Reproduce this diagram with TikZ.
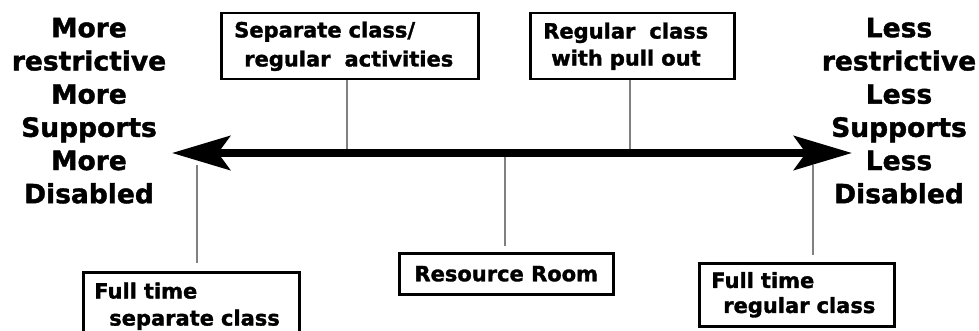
\documentclass[tikz,border=0pt]{standalone}
\usepackage{fontspec}
\newfontfamily\heavy{DejaVu Sans Bold}[FakeBold=1.5]
\usetikzlibrary{arrows.meta}

\begin{document}
\begin{tikzpicture}[x=1pt,y=-1pt,
  box/.style={draw,line width=2.5pt,anchor=north west,inner ysep=0pt,
    font=\heavy\fontsize{21}{#1}\selectfont,align=left},
  box/.default=25,
  side/.style={font=\heavy\fontsize{26.5}{33.2}\selectfont,align=center,
    inner sep=0pt,anchor=north},
  tick/.style={draw=gray,line width=1.5pt},
  spine/.style={line width=8pt,
    {Stealth[length=58pt,width=34pt,inset=12pt]}-{Stealth[length=58pt,width=34pt,inset=12pt]}}]
  \useasboundingbox (0,0) rectangle (979,331);
  \clip (0,0) rectangle (979,331);
  % the scale
  \coordinate (lo) at (172,153);
  \coordinate (hi) at (852,153);
  \draw[spine] (lo) -- (hi);
  \node[side] (more) at (89,17.7) {More\\restrictive\\More\\Supports\\More\\Disabled};
  \node[side] (less) at (899,17.7) {Less\\restrictive\\Less\\Supports\\Less\\Disabled};
  % placements above the scale
  \node[box=29,inner xsep=13pt,text width=231pt,minimum height=66pt] (sepcls) at (220,12)
    {Separate class/\\\hspace*{10pt}regular\ \ activities};
  \node[box=27,inner xsep=13pt,text width=178pt,minimum height=66pt] (pullout) at (529,12)
    {Regular\ \ class\\\hspace*{8pt}with pull out};
  % placements below the scale
  \node[box,inner xsep=0pt,minimum width=214pt,minimum height=41pt,align=center] (resroom) at (398,252)
    {Resource Room};
  \node[box=27,inner xsep=11pt,text width=194pt,minimum height=68pt] (fullsep) at (82,271)
    {Full time\\\hspace*{15pt}separate class};
  \node[box=25,inner xsep=12pt,text width=171pt,minimum height=63pt] (fullreg) at (698,262)
    {Full time\\\hspace*{12pt}regular class};
  % ticks
  \coordinate (t1) at (347,149);
  \coordinate (t2) at (630,149);
  \coordinate (t3) at (505,157);
  \coordinate (t4) at (197,165);
  \coordinate (t5) at (813,165);
  \draw[tick] (sepcls.south -| t1) -- (t1);
  \draw[tick] (pullout.south -| t2) -- (t2);
  \draw[tick,shorten <=6pt] (resroom.north -| t3) -- (t3);
  \draw[tick,shorten <=8pt] (fullsep.north -| t4) -- (t4);
  \draw[tick,shorten <=7pt] (fullreg.north -| t5) -- (t5);
\end{tikzpicture}
\end{document}
